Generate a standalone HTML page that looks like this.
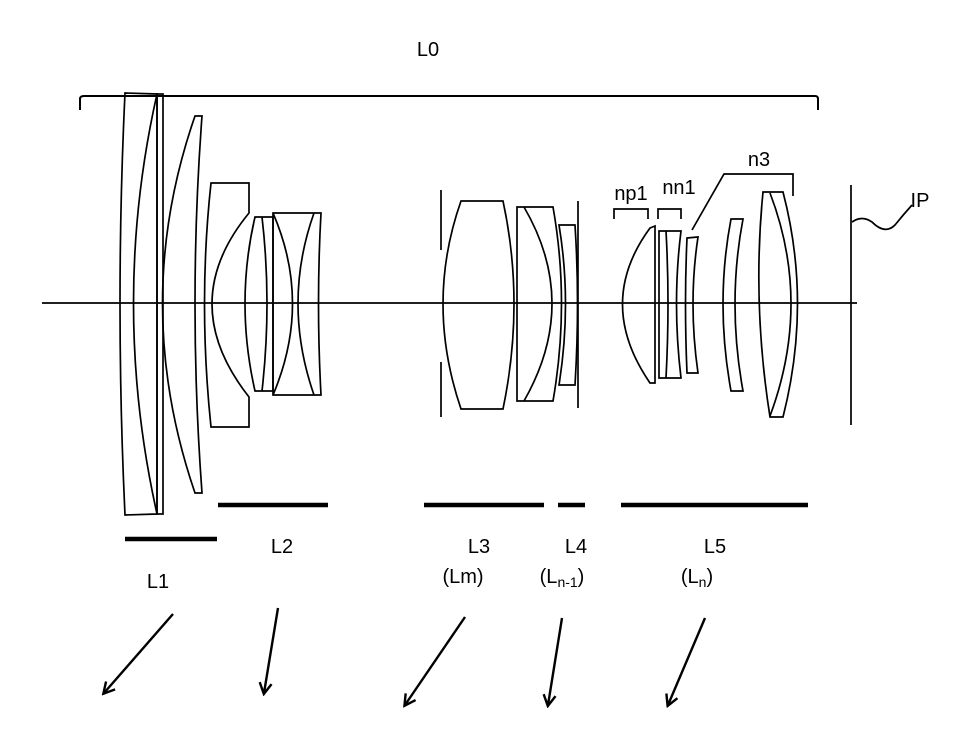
<!DOCTYPE html>
<html><head><meta charset="utf-8"><style>
html,body{margin:0;padding:0;background:#fff;}
svg{display:block;}
text{font-family:"Liberation Sans",sans-serif;font-size:20px;fill:#000;}
</style></head><body>
<svg width="957" height="756" viewBox="0 0 957 756" xmlns="http://www.w3.org/2000/svg">
<defs><marker id="ah" markerWidth="14" markerHeight="14" refX="11" refY="7" orient="auto" markerUnits="userSpaceOnUse"><path d="M1,1 L12,7 L1,13" fill="none" stroke="#000" stroke-width="2.4"/></marker></defs>
<g fill="none" stroke="#000" stroke-width="1.7">
<path d="M80,110 L80,99 Q80,96 84,96 L815,96 Q818,96 818,99 L818,110" stroke-width="2"/>
<line x1="42" y1="303" x2="857" y2="303"/>
<path d="M125,93 L157,94 L157,514 L125,515 Q115,303 125,93 Z"/>
<path d="M157,94 Q110,303 157,514"/>
<rect x="157" y="94" width="6" height="420"/>
<path d="M195,116 L202,116 Q188,303 202,493 L195,493 Q130,303 195,116 Z"/>
<path d="M211,183 L249,183 L249,213 Q175,303 249,397 L249,427 L211,427 Q198,303 211,183 Z"/>
<path d="M255,217 L273,217 L273,391 L255,391 Q235,303 255,217 Z"/>
<path d="M262,217 Q272,303 262,391"/>
<path d="M273,213 L321,213 Q316,303 321,395 L273,395 Z"/>
<path d="M273,213 Q312,303 273,395"/>
<path d="M314,213 Q282,303 314,395"/>
<line x1="441" y1="190" x2="441" y2="250"/>
<line x1="441" y1="362" x2="441" y2="417"/>
<path d="M461,201 L503,201 Q525,303 503,409 L461,409 Q425,303 461,201 Z"/>
<path d="M517,207 L553,207 Q570,303 553,401 L517,401 Z"/>
<path d="M524,207 Q580,303 524,401"/>
<path d="M559,225 L575,225 Q580,303 575,385 L559,385 Q572,303 559,225 Z"/>
<line x1="578" y1="201" x2="578" y2="408"/>
<path d="M650,228 L655,226 L655,383 L650,383 Q595,303 650,228 Z"/>
<path d="M659,231 L681,231 Q672,303 681,378 L659,378 Z"/>
<path d="M666,231 Q670,303 666,378"/>
<path d="M687,238 L698,237 Q688,303 698,373 L687,373 Q684,303 687,238 Z"/>
<path d="M731,219 L743,219 Q727,303 743,391 L731,391 Q715,303 731,219 Z"/>
<path d="M763,192 L783,192 Q812,303 783,417 L770,417 Q752,303 763,192 Z"/>
<path d="M770,193 Q812,303 770,416"/>
<line x1="851" y1="185" x2="851" y2="425"/>
<path d="M852,222 Q862,215 872,222 Q885,235 895,225 Q903,215 912,205"/>
<path d="M614,219 L614,209 L648,209 L648,219"/>
<path d="M658,219 L658,209 L681,209 L681,219"/>
<path d="M692,230 L724,174 L793,174 L793,196"/>
</g>
<g stroke="#000" stroke-width="4.5">
<line x1="125" y1="539" x2="217" y2="539"/>
<line x1="218" y1="505" x2="328" y2="505"/>
<line x1="424" y1="505" x2="544" y2="505"/>
<line x1="558" y1="505" x2="585" y2="505"/>
<line x1="621" y1="505" x2="808" y2="505"/>
</g>
<g stroke="#000" stroke-width="2.4" fill="none">
<line x1="173" y1="614" x2="104" y2="693" marker-end="url(#ah)"/>
<line x1="278" y1="608" x2="264" y2="693" marker-end="url(#ah)"/>
<line x1="465" y1="617" x2="405" y2="705" marker-end="url(#ah)"/>
<line x1="562" y1="618" x2="548" y2="705" marker-end="url(#ah)"/>
<line x1="705" y1="618" x2="668" y2="705" marker-end="url(#ah)"/>
</g>
<text x="428" y="56" font-size="22" text-anchor="middle">L0</text>
<text x="158" y="588" text-anchor="middle">L1</text>
<text x="282" y="553" text-anchor="middle">L2</text>
<text x="479" y="553" text-anchor="middle">L3</text>
<text x="463" y="583" text-anchor="middle">(Lm)</text>
<text x="576" y="553" text-anchor="middle">L4</text>
<text x="562" y="583" text-anchor="middle">(L<tspan font-size="14" dy="4">n-1</tspan><tspan dy="-4">)</tspan></text>
<text x="715" y="553" text-anchor="middle">L5</text>
<text x="697" y="583" text-anchor="middle">(L<tspan font-size="14" dy="4">n</tspan><tspan dy="-4">)</tspan></text>
<text x="631" y="200" text-anchor="middle">np1</text>
<text x="679" y="194" text-anchor="middle">nn1</text>
<text x="759" y="166" text-anchor="middle">n3</text>
<text x="920" y="207" text-anchor="middle">IP</text>
</svg>
</body></html>
